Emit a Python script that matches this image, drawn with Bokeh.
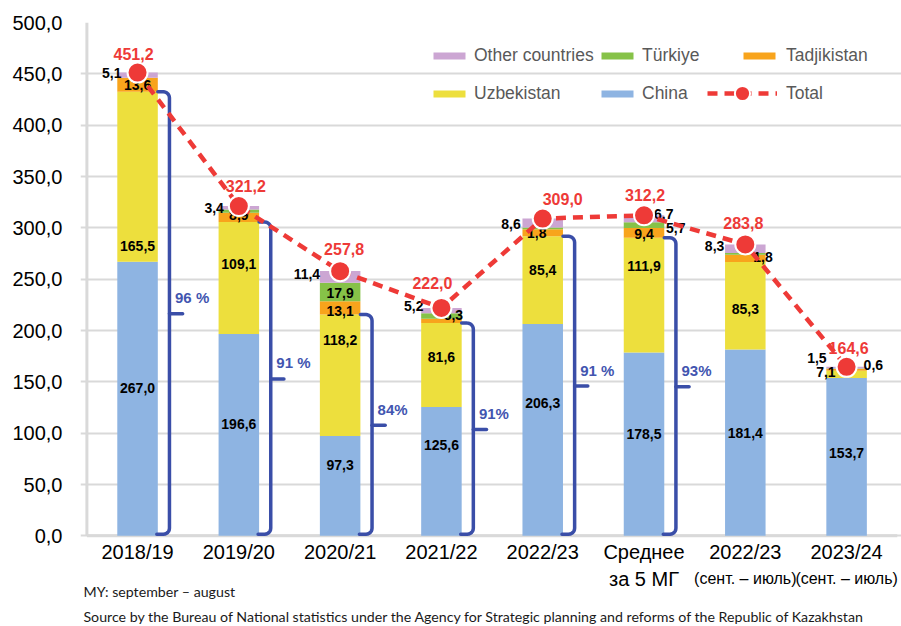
import numpy as np
from bokeh.plotting import figure
from bokeh.models import ColumnDataSource, Range1d, FixedTicker, Legend, LegendItem
from bokeh.core.properties import value
from bokeh.embed import file_html
from bokeh.resources import INLINE

# ---------------- data ----------------
categories = ["2018/19", "2019/20", "2020/21", "2021/22", "2022/23", "Среднее", "2022/23", "2023/24"]
category_sublabels = ["", "", "", "", "", "за 5 МГ", "(сент. – июль)", "(сент. – июль)"]
china = [267.0, 196.6, 97.3, 125.6, 206.3, 178.5, 181.4, 153.7]
uzbekistan = [165.5, 109.1, 118.2, 81.6, 85.4, 111.9, 85.3, 7.1]
tadjikistan = [13.6, 8.9, 13.1, 4.3, 6.9, 9.4, 7.0, 1.7]
turkiye = [0.0, 3.2, 17.9, 5.3, 1.8, 5.7, 1.8, 0.6]
other = [5.1, 3.4, 11.4, 5.2, 8.6, 6.7, 8.3, 1.5]
total = [451.2, 321.2, 257.8, 222.0, 309.0, 312.2, 283.8, 164.6]
share_labels = ["96 %", "91 %", "84%", "91%", "91 %", "93%"]
y_ticks = [0, 50, 100, 150, 200, 250, 300, 350, 400, 450, 500]
y_tick_labels = ["0,0", "50,0", "100,0", "150,0", "200,0", "250,0", "300,0", "350,0", "400,0", "450,0", "500,0"]
series_names = ["China", "Uzbekistan", "Tadjikistan", "Türkiye", "Other countries"]
footer_note = "MY: september – august"
footer_source = "Source by the Bureau of National statistics under the Agency for Strategic planning and reforms of the Republic of Kazakhstan"

# ---------------- styles ----------------
colors = ["#8EB4E2", "#EDDF3D", "#F8A41C", "#86C248", "#CCA6D3"]
RED = "#EE3A37"
BRACKET = "#3A4EA8"
PCT = "#4255B0"
AXIS = "#D9D9D9"
REG = "Liberation Sans"


def fmt(v):
    return f"{v:.1f}".replace(".", ",")


x = list(range(len(categories)))

# frame extends below zero so that category texts and footer are drawn as glyphs
p = figure(width=901, height=626, x_range=Range1d(-0.5632, 7.542), y_range=Range1d(-88.3, 500),
           x_axis_location=None, output_backend="svg", toolbar_location=None, tools="",
           min_border_left=80, min_border_right=0, min_border_top=22, min_border_bottom=0)
p.outline_line_color = None
p.background_fill_color = "white"
p.border_fill_color = "white"
p.xgrid.visible = False
p.ygrid.ticker = FixedTicker(ticks=y_ticks)
p.ygrid.grid_line_color = AXIS
p.ygrid.grid_line_width = 2

p.yaxis.ticker = FixedTicker(ticks=y_ticks)
p.yaxis.major_label_overrides = dict(zip(y_ticks, y_tick_labels))
p.yaxis.axis_line_color = None
p.yaxis.major_tick_line_color = None
p.yaxis.minor_tick_line_color = None
p.yaxis.major_label_standoff = 12
p.yaxis.major_label_text_font = REG
p.yaxis.major_label_text_font_size = "20px"
p.yaxis.major_label_text_color = "black"

# axis lines
p.segment(x0=[-0.5], y0=[0], x1=[-0.5], y1=[500], line_color=AXIS, line_width=3)
p.segment(x0=[-0.5], y0=[0], x1=[7.5], y1=[0], line_color=AXIS, line_width=3)

# category labels
p.text(x=x, y=[0] * len(x), text=categories, y_offset=16, text_align="center", text_baseline="middle",
       text_font=value(REG), text_font_size="20px", text_color="black")
sub_x = [x[i] for i, s in enumerate(category_sublabels) if s]
sub_t = [s for s in category_sublabels if s]
sub_sz = ["20px" if not s.startswith("(") else "16px" for s in sub_t]
p.text(x=sub_x, y=[0] * len(sub_x), text=sub_t, y_offset=43, text_align="center", text_baseline="middle",
       text_font=value(REG), text_font_size=sub_sz, text_color="black")

# ---------------- stacked bars ----------------
keys = ["china", "uzbekistan", "tadjikistan", "turkiye", "other"]
source = ColumnDataSource(dict(x=x, china=china, uzbekistan=uzbekistan, tadjikistan=tadjikistan,
                               turkiye=turkiye, other=other))
bars = p.vbar_stack(keys, x="x", width=0.4, fill_color=colors, line_color=None, source=source)

arr = np.array([china, uzbekistan, tadjikistan, turkiye, other])
tops = arr.cumsum(axis=0)
mids = tops - arr / 2.0

# ---------------- segment labels ----------------
# (series index, bar index, dx px, dy px (up), align)
label_specs = []
china_dy = [11, 11, 21, 26, 27, 10, 10, 4]
for i, dy in enumerate(china_dy):
    label_specs.append((0, i, 0, dy, "center"))
uzb_dy = [-69, 14, 35, 8, 10, 29, -3]
for i, dy in enumerate(uzb_dy):
    label_specs.append((1, i, 0, dy, "center"))
label_specs += [
    (2, 0, 0, 0, "center"), (4, 0, -16, 2, "right"),
    (2, 1, 0, 2, "center"), (4, 1, -15, 0, "right"),
    (2, 2, 0, -3, "center"), (3, 2, 0, -1, "center"), (4, 2, -20, 3, "right"),
    (3, 3, 12, 1, "center"), (4, 3, -18, 5, "right"),
    (3, 4, -6, -5, "center"), (4, 4, -22, -1, "right"),
    (2, 5, 0, -1, "center"), (3, 5, 22, -3, "left"), (4, 5, 10, 5, "left"),
    (3, 6, 8, -3, "left"), (4, 6, -21, 3, "right"),
    (1, 7, -11, 2, "right"), (4, 7, -20, 10, "right"), (3, 7, 17, 4, "left"),
]
for align in ["center", "left", "right"]:
    d = dict(x=[], y=[], text=[], xo=[], yo=[])
    for s, b, dx, dy, al in label_specs:
        if al != align:
            continue
        d["x"].append(x[b])
        d["y"].append(mids[s][b])
        d["text"].append(fmt(arr[s][b]))
        d["xo"].append(dx)
        d["yo"].append(-dy)
    p.text(x="x", y="y", text="text", x_offset="xo", y_offset="yo", source=ColumnDataSource(d),
           text_align=align, text_baseline="middle", text_font=value(REG),
           text_font_size="14px", text_font_style="bold", text_color="black")

# ---------------- brackets with shares ----------------
rx, ry, y0 = 0.06, 6.0, 1.5
th_top = np.linspace(np.pi / 2, 0, 7)
th_bot = np.linspace(0, -np.pi / 2, 7)
br_xs, br_ys = [], []
pct = dict(x=[], y=[], text=[])
for i, lab in enumerate(share_labels):
    c = x[i]
    T = tops[1][i]
    xb = c + 0.315
    xs = [c + 0.2] + list(xb - rx + rx * np.cos(th_top)) + list(xb - rx + rx * np.cos(th_bot)) + [c + 0.19]
    ys = [T] + list(T - ry + ry * np.sin(th_top)) + list(y0 + ry + ry * np.sin(th_bot)) + [y0]
    br_xs.append(xs)
    br_ys.append(ys)
    M = T / 2.0
    br_xs.append([xb, xb + 0.13])
    br_ys.append([M, M])
    pct["x"].append(c + 0.37)
    pct["y"].append(M)
    pct["text"].append(lab)
p.multi_line(br_xs, br_ys, line_color=BRACKET, line_width=3.5, line_join="round", line_cap="round")
p.text(x="x", y="y", text="text", source=ColumnDataSource(pct), y_offset=-16,
       text_align="left", text_baseline="middle", text_font=value(REG),
       text_font_size="15px", text_font_style="bold", text_color=PCT)

# ---------------- total line ----------------
tot_src = ColumnDataSource(dict(x=x, total=total))
line_r = p.line("x", "total", source=tot_src, line_color=RED, line_width=4.5, line_dash="10 7")
pts_r = p.scatter("x", "total", source=tot_src, size=20, fill_color=RED, line_color="white", line_width=2)

tot_off = [(-4, 19), (7, 20), (4, 22), (-9, 25), (20, 20), (1, 20), (-2, 21), (2, 19)]
tl = dict(x=x, y=total, text=[fmt(v) for v in total],
          xo=[o[0] for o in tot_off], yo=[-o[1] for o in tot_off])
p.text(x="x", y="y", text="text", x_offset="xo", y_offset="yo", source=ColumnDataSource(tl),
       text_align="center", text_baseline="middle", text_font=value(REG),
       text_font_size="16px", text_font_style="bold", text_color=RED)


# ---------------- legends ----------------
def add_legend(items, loc, gw, gh, standoff):
    lg = Legend(items=items, location=loc, orientation="vertical", padding=0, margin=0, spacing=14,
                glyph_width=gw, glyph_height=gh, label_height=24, label_standoff=standoff,
                background_fill_alpha=0, border_line_alpha=0,
                label_text_font=REG, label_text_font_size="17.5px", label_text_color="#595959")
    p.add_layout(lg)


add_legend([LegendItem(label=series_names[4], renderers=[bars[4]]),
            LegendItem(label=series_names[1], renderers=[bars[1]])], (349, 521), 40, 9, 5)
add_legend([LegendItem(label=series_names[3], renderers=[bars[3]]),
            LegendItem(label=series_names[0], renderers=[bars[0]])], (517, 521), 40, 9, 5)
add_legend([LegendItem(label=series_names[2], renderers=[bars[2]])], (659, 559), 40, 9, 7)
add_legend([LegendItem(label="Total", renderers=[line_r, pts_r])], (627, 514), 70, 38, 9)

# ---------------- footer ----------------
p.text(x=[-0.534, -0.534], y=[0, 0], text=[footer_note, footer_source], y_offset=[56, 81],
       text_align="left", text_baseline="middle", text_font=value("Lato"),
       text_font_size="14.2px", text_color="#1a1a1a")

open("out.html", "w").write(file_html(p, INLINE))
